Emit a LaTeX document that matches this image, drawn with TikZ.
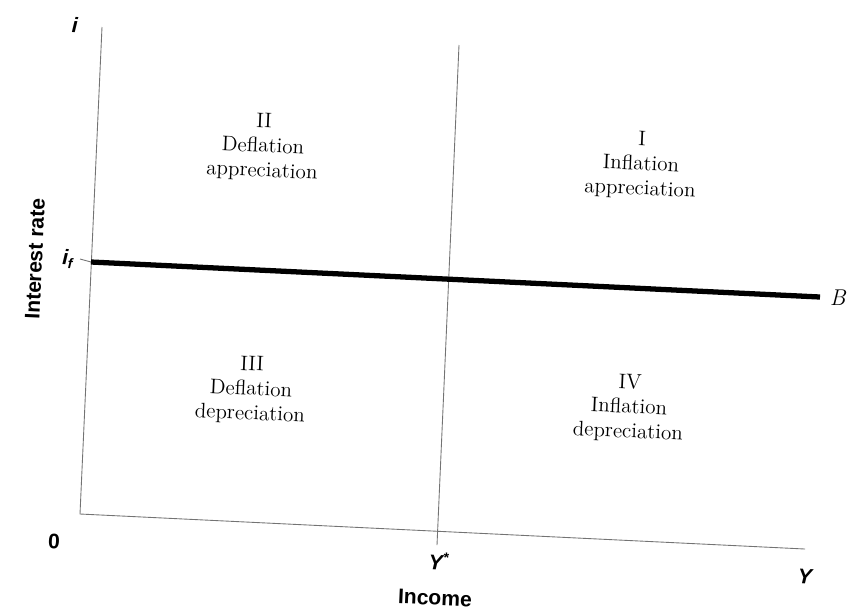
\documentclass[tikz,border=0pt]{standalone}
\usepackage{fontspec}
\newfontfamily\axisfont{Liberation Sans}
\usepackage{tikz}

\begin{document}
\begin{tikzpicture}[x=0.02cm,y=-0.02cm]
	\tikzstyle{every node}+=[inner sep=0pt]
	\tikzstyle{axisline}=[draw=black!55, line width=0.5pt]
	\tikzstyle{axislabel}=[font=\axisfont\bfseries\large, rotate=-2.6]
	\tikzstyle{zonetext}=[align=center, font=\fontsize{12}{14}\selectfont, rotate=-2.6]
	\useasboundingbox (0,0) rectangle (848,610);
	% axes and reference lines
	\coordinate (origin) at (80,514);
	\coordinate (itop) at (102,27);
	\coordinate (yend) at (805,549);
	\coordinate (startop) at (459,45);
	\coordinate (starbot) at (437,545);
	\coordinate (iftick) at (80,259);
	\coordinate (bleft) at (91,262);
	\coordinate (bright) at (820,297);
	\draw [axisline] (itop) -- (origin) -- (yend);
	\draw [axisline] (startop) -- (starbot);
	\draw [axisline] (iftick) -- (bleft);
	\draw [black, line width=3pt] (bleft) -- (bright);
	% labels
	\node [axislabel] (ilab) at (75,25) {\itshape i};
	\node [axislabel] (iflab) at (68,259) {\itshape i\textsubscript{f}};
	\node [axislabel, rotate=90] (ratelab) at (35,259) {Interest rate};
	\node [axislabel] (zerolab) at (54,541) {0};
	\node [axislabel] (ystarlab) at (439,561) {\itshape Y\textsuperscript{*}};
	\node [axislabel] (ylab) at (805,577) {\itshape Y};
	\node [axislabel] (incomelab) at (435,598) {Income};
	\node [font=\fontsize{13}{15}\selectfont\itshape, anchor=east] (blab) at (846,298) {B};
	% quadrants
	\node [zonetext] (zoneII) at (263,147) {II\\Deflation\\appreciation};
	\node [zonetext] (zoneI) at (641,165) {I\\Inflation\\appreciation};
	\node [zonetext] (zoneIII) at (251,390) {III\\Deflation\\depreciation};
	\node [zonetext] (zoneIV) at (629,408) {IV\\Inflation\\depreciation};
\end{tikzpicture}
\end{document}
